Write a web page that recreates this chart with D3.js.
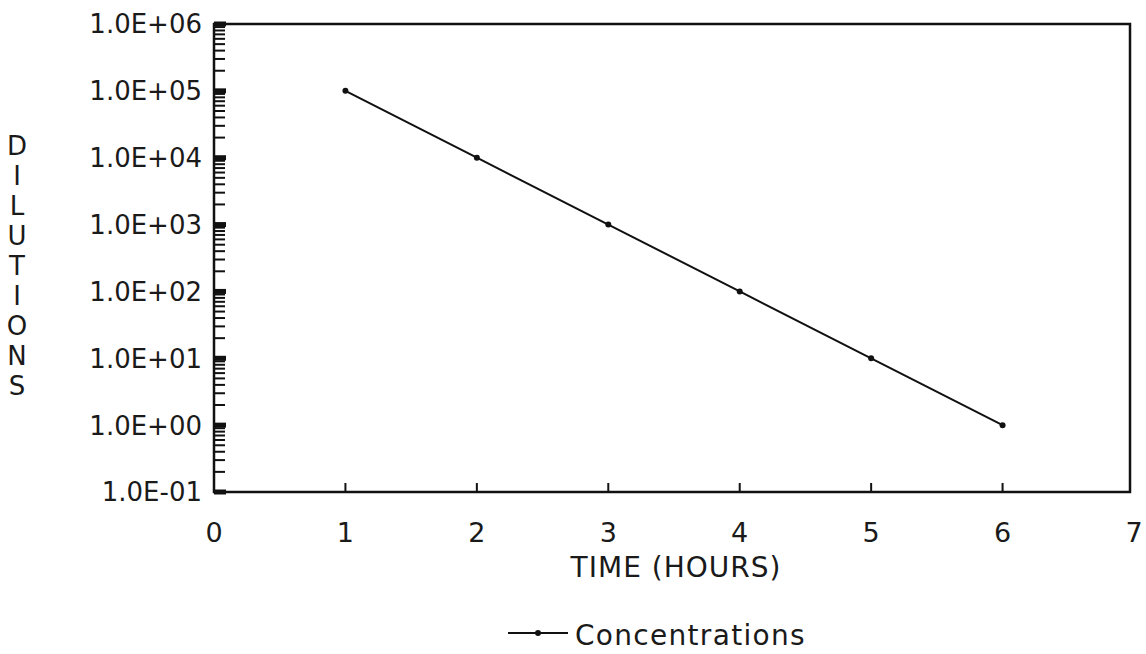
<!DOCTYPE html>
<html>
<head>
<meta charset="utf-8">
<script src="https://cdn.jsdelivr.net/npm/d3@7"></script>
<style>
  body { margin: 0; background: #fff; }
  text { font-family: "DejaVu Sans", "Liberation Sans", Arial, sans-serif; fill: #1a1a1a; }
</style>
</head>
<body>
<div id="chart"></div>
<script>
"use strict";

// data
var hours = [1, 2, 3, 4, 5, 6];
var dilutions = [1e5, 1e4, 1e3, 1e2, 1e1, 1e0];
var xTicks = [0, 1, 2, 3, 4, 5, 6, 7];
var yTicks = [1e-1, 1e0, 1e1, 1e2, 1e3, 1e4, 1e5, 1e6];
var yTickLabels = ["1.0E-01", "1.0E+00", "1.0E+01", "1.0E+02", "1.0E+03", "1.0E+04", "1.0E+05", "1.0E+06"];
var yTitle = "DILUTIONS";
var xTitle = "TIME (HOURS)";
var seriesName = "Concentrations";

var width = 1146, height = 654;
var margin = {top: 24, right: 12, bottom: 162, left: 214};
var w = width - margin.left - margin.right;
var h = height - margin.top - margin.bottom;

var svg = d3.select("#chart")
    .append("svg")
    .attr("width", width)
    .attr("height", height);

var g = svg.append("g")
    .attr("transform", "translate(" + margin.left + "," + margin.top + ")");

var x = d3.scaleLinear().domain([0, 7]).range([0, 920]);
var y = d3.scaleLog().domain([1e-1, 1e6]).range([h, 0]);

// minor ticks on the left axis (2..9 in every decade), pointing inward
var minor = [];
yTicks.slice(0, -1).forEach(function(d) {
    for (var k = 2; k <= 9; k++) minor.push(d * k);
});
g.selectAll(".minor")
    .data(minor)
    .enter()
    .append("line")
    .attr("class", "minor")
    .attr("x1", 0)
    .attr("x2", 11)
    .attr("y1", function(d) { return y(d); })
    .attr("y2", function(d) { return y(d); })
    .attr("stroke", "#111")
    .attr("stroke-width", 2);

// major ticks, thick
g.selectAll(".major")
    .data(yTicks)
    .enter()
    .append("line")
    .attr("class", "major")
    .attr("x1", 0)
    .attr("x2", 12)
    .attr("y1", function(d) { return y(d); })
    .attr("y2", function(d) { return y(d); })
    .attr("stroke", "#111")
    .attr("stroke-width", 5);

// y tick labels
g.selectAll(".ylab")
    .data(yTicks)
    .enter()
    .append("text")
    .attr("class", "ylab")
    .attr("x", -12)
    .attr("y", function(d) { return y(d); })
    .attr("dy", "0.36em")
    .style("text-anchor", "end")
    .style("font-size", "26px")
    .text(function(d, i) { return yTickLabels[i]; });

// x ticks, inward
g.selectAll(".xtick")
    .data(xTicks.slice(1, -1))
    .enter()
    .append("line")
    .attr("class", "xtick")
    .attr("x1", function(d) { return x(d); })
    .attr("x2", function(d) { return x(d); })
    .attr("y1", h)
    .attr("y2", h - 9)
    .attr("stroke", "#111")
    .attr("stroke-width", 2);

g.selectAll(".xlab")
    .data(xTicks)
    .enter()
    .append("text")
    .attr("class", "xlab")
    .attr("x", function(d) { return x(d); })
    .attr("y", h + 50)
    .style("text-anchor", "middle")
    .style("font-size", "27px")
    .text(function(d) { return d; });

// frame
g.append("rect")
    .attr("x", 0)
    .attr("y", 0)
    .attr("width", x(7) - 4)
    .attr("height", h)
    .attr("fill", "none")
    .attr("stroke", "#111")
    .attr("stroke-width", 2.5);

// the series
var points = hours.map(function(d, i) { return {t: d, v: dilutions[i]}; });
var line = d3.line()
    .x(function(d) { return x(d.t); })
    .y(function(d) { return y(d.v); });

g.append("path")
    .datum(points)
    .attr("d", line)
    .attr("fill", "none")
    .attr("stroke", "#111")
    .attr("stroke-width", 2);

g.selectAll(".dot")
    .data(points)
    .enter()
    .append("circle")
    .attr("class", "dot")
    .attr("cx", function(d) { return x(d.t); })
    .attr("cy", function(d) { return y(d.v); })
    .attr("r", 3)
    .attr("fill", "#111");

// x axis title
svg.append("text")
    .attr("x", 676)
    .attr("y", 577)
    .style("text-anchor", "middle")
    .style("font-size", "28px")
    .style("letter-spacing", "1px")
    .text(xTitle);

// y axis title, stacked letters
svg.selectAll(".ytitle")
    .data(yTitle.split(""))
    .enter()
    .append("text")
    .attr("class", "ytitle")
    .attr("x", 17)
    .attr("y", function(d, i) { return 155 + i * 30; })
    .style("text-anchor", "middle")
    .style("font-size", "26px")
    .text(function(d) { return d; });

// legend
var legend = svg.append("g")
    .attr("transform", "translate(508,633)");
legend.append("line")
    .attr("x1", 0)
    .attr("x2", 60)
    .attr("stroke", "#111")
    .attr("stroke-width", 2);
legend.append("circle")
    .attr("cx", 30)
    .attr("r", 3)
    .attr("fill", "#111");
legend.append("text")
    .attr("x", 67)
    .attr("y", 12)
    .style("font-size", "28px")
    .style("letter-spacing", "1.3px")
    .text(seriesName);
</script>
</body>
</html>
